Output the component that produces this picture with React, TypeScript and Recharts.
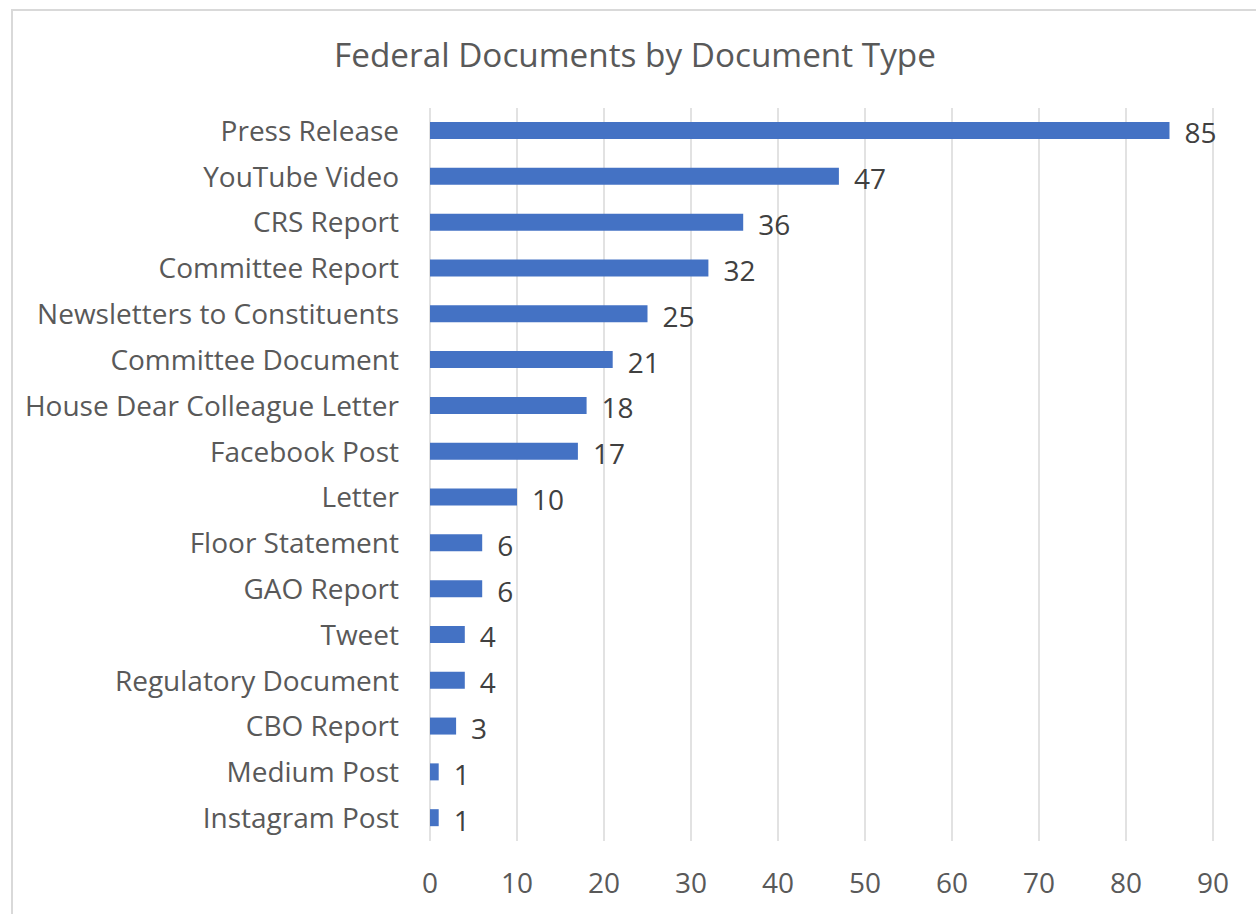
import { BarChart, Bar, XAxis, YAxis, CartesianGrid, LabelList } from 'recharts';

const BLUE = '#4472C4';
const GRID = '#d9d9d9';
const TEXT = '#595959';
const FONT = '"Open Sans", "Noto Sans", sans-serif';

const docTypes = [
  'Press Release', 'YouTube Video', 'CRS Report', 'Committee Report',
  'Newsletters to Constituents', 'Committee Document', 'House Dear Colleague Letter',
  'Facebook Post', 'Letter', 'Floor Statement', 'GAO Report', 'Tweet',
  'Regulatory Document', 'CBO Report', 'Medium Post', 'Instagram Post',
];
const docCounts = [85, 47, 36, 32, 25, 21, 18, 17, 10, 6, 6, 4, 4, 3, 1, 1];
const xTicks = [0, 10, 20, 30, 40, 50, 60, 70, 80, 90];

const data = docTypes.map((name, i) => ({ name, count: docCounts[i] }));

export default function App() {
  return (
    <div style={{ position: 'fixed', left: 0, top: 0, width: 1256, height: 914, overflow: 'hidden', background: '#fff', fontFamily: FONT }}>
      {/* chart frame, runs off the right/bottom edge like the screenshot */}
      <div style={{ position: 'absolute', left: 11, top: 9, width: 1270, height: 930, border: '2px solid #d9d9d9', boxSizing: 'border-box' }} />
      <div style={{ position: 'absolute', left: 0, top: 31, width: 1270, textAlign: 'center', fontSize: 33.3, color: TEXT }}>
        Federal Documents by Document Type
      </div>
      <div style={{ position: 'absolute', left: 0, top: 0 }}>
        <BarChart width={1256} height={914} data={data} layout="vertical"
          margin={{ top: 108, right: 43, left: 0, bottom: 13 }}>
          <CartesianGrid horizontal={false} stroke={GRID} strokeWidth={1.5} />
          <XAxis type="number" domain={[0, 90]} ticks={xTicks} axisLine={false} tickLine={false}
            height={60} tick={{ fill: TEXT, fontSize: 28, fontFamily: FONT, dy: 24 }} />
          <YAxis type="category" dataKey="name" width={430} axisLine={false} tickLine={false}
            interval={0} tickMargin={25} tick={{ fill: TEXT, fontSize: 28, fontFamily: FONT }} />
          <Bar dataKey="count" fill={BLUE} barSize={17} isAnimationActive={false}>
            <LabelList dataKey="count" position="right" offset={15}
              style={{ fill: '#404040', fontSize: 28, fontFamily: FONT }} dy={3} />
          </Bar>
        </BarChart>
      </div>
    </div>
  );
}
